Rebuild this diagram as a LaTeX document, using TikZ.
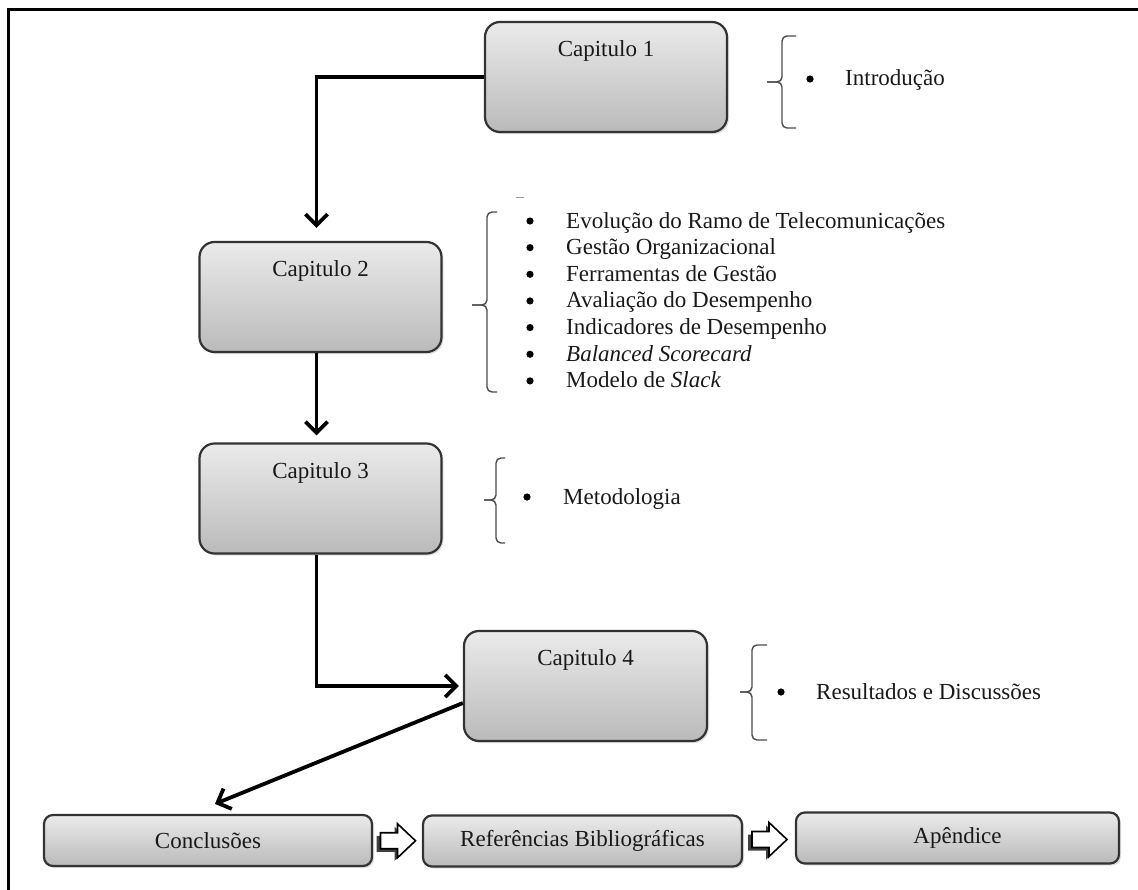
\documentclass[tikz,border=0pt]{standalone}
\usepackage{fontspec}
\setmainfont{Liberation Serif}
\usetikzlibrary{arrows.meta,shadows,calc}

\tikzset{
  chapbox/.style={draw=black!80, line width=2.2pt, rounded corners=15pt,
    top color=black!8, bottom color=black!27,
    minimum width=242pt, minimum height=110pt, inner sep=0pt,
    drop shadow={shadow xshift=2pt, shadow yshift=-2pt, opacity=0.25}},
  endbox/.style={chapbox, rounded corners=9pt, minimum height=51pt},
  txt/.style={font=\fontsize{23}{26}\selectfont, text=black!90, inner sep=0pt},
  flow/.style={line width=3.8pt, -{Straight Barb[length=11pt,width=22pt]}},
  bracket/.style={draw=black!70, line width=1.4pt, rounded corners=5pt},
  blockarrow/.style={fill=white, draw=black, line width=1.6pt, line join=miter},
}

% curly bracket: tip x, spine x, end x, top y, bottom y, tip y
\newcommand\chapbracket[6]{%
  \draw[bracket] (#3,#4) -- (#2,#4) -- (#2,#6) -- (#1,#6);
  \draw[bracket] (#3,#5) -- (#2,#5) -- (#2,#6) -- (#1,#6);}
\newcommand\listbullet[2]{\fill (#1,#2) circle (3.6pt);}
% hollow block arrow with a dark offset shadow
\newcommand\hollowarrow{%
  \fill[black!75] (-21,-5) -- (-3,-5) -- (-3,-14) -- (15,3) -- (-3,20) -- (-3,11) -- (-21,11) -- cycle;
  \draw[blockarrow] (-17,-8) -- (0,-8) -- (0,-17) -- (18,0) -- (0,17) -- (0,8) -- (-17,8) -- cycle;}

\begin{document}
\begin{tikzpicture}[x=1pt, y=-1pt]
\useasboundingbox (0,0) rectangle (1138,889);

% page frame
\draw[line width=2.5pt] (8.5,895) -- (8.5,9.5) -- (1145,9.5);

% chapter boxes
\node[chapbox, label={[txt,anchor=base,yshift=-36pt]north:Capitulo 1}] (c1) at (606,77) {};
\node[chapbox, label={[txt,anchor=base,yshift=-36pt]north:Capitulo 2}] (c2) at (320.5,297) {};
\node[chapbox, label={[txt,anchor=base,yshift=-36pt]north:Capitulo 3}] (c3) at (320.5,498.5) {};
\node[chapbox, minimum width=243pt, label={[txt,anchor=base,yshift=-36pt]north:Capitulo 4}] (c4) at (585.5,686) {};

% closing boxes
\node[endbox, minimum width=328pt, txt] (concl) at (208,840.5) {Conclusões};
\node[endbox, minimum width=319pt, txt] (refs) at (582.5,841) {Referências Bibliográficas};
\node[endbox, minimum width=323pt, txt] (apend) at (957.5,838) {Apêndice};

% flow between chapters
\draw[flow] (c1.west) -| ([shift={(-4pt,13pt)}]c2.north);
\draw[flow] ([xshift=-4pt]c2.south) -- ([shift={(-4pt,7pt)}]c3.north);
\draw[flow] ([xshift=-4pt]c3.south) |- ([xshift=-4pt]c4.west);
\draw[flow] ([yshift=-17pt]c4.west) -- ([shift={(7pt,10pt)}]concl.north);

% block arrows between closing boxes
\begin{scope}[shift={($(concl.east)!0.5!(refs.west)$)}]
  \hollowarrow
\end{scope}
\begin{scope}[shift={($(refs.east)!0.5!(apend.west)$)}]
  \hollowarrow
\end{scope}

% chapter 1 contents
\chapbracket{767}{782}{796}{36}{128}{82}
\listbullet{810}{79}
\node[txt, anchor=base west] (t1) at (845,85) {Introdução};

% chapter 2 contents
\draw[black!40, line width=1pt] (516,197) -- (524,197);
\chapbracket{472}{487}{497}{212}{392}{305}
\foreach \k/\item in {0/{Evolução do Ramo de Telecomunicações},
                      1/{Gestão Organizacional},
                      2/{Ferramentas de Gestão},
                      3/{Avaliação do Desempenho},
                      4/{Indicadores de Desempenho},
                      5/{\textit{Balanced Scorecard}},
                      6/{Modelo de \textit{Slack}}}{
  \pgfmathsetmacro{\yb}{228+26.65*\k}
  \listbullet{530}{\yb-7}
  \node[txt, anchor=base west] (t2-\k) at (566,\yb) {\item};
}

% chapter 3 contents
\chapbracket{484}{496}{505}{458}{543}{500}
\listbullet{527}{497}
\node[txt, anchor=base west] (t3) at (563,504) {Metodologia};

% chapter 4 contents
\chapbracket{740}{752}{767}{645}{740}{692}
\listbullet{781}{692}
\node[txt, anchor=base west] (t4) at (816,699) {Resultados e Discussões};
\end{tikzpicture}
\end{document}
